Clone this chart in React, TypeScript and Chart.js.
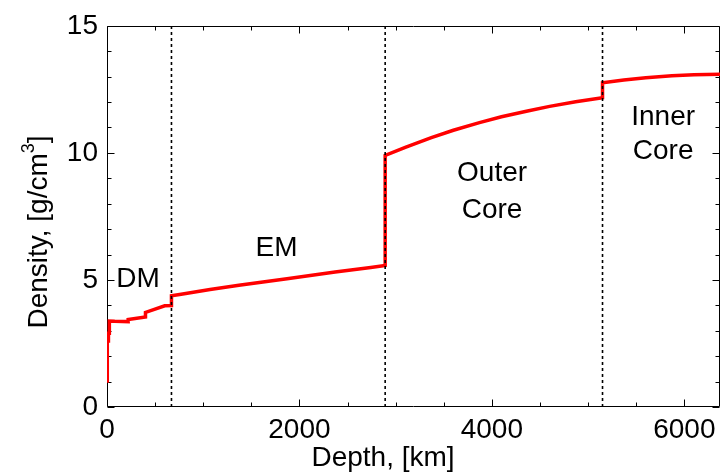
import React, { useEffect, useRef } from 'react';
import { Chart, registerables } from 'chart.js';

Chart.register(...registerables);

// PREM-like density profile
const depthKm = [
  0, 3, 3, 15, 15, 24.4, 24.4, 80, 220, 220, 400, 400, 600, 670, 670, 771,
  1071, 1371, 1871, 2371, 2741, 2891, 2891, 3100, 3371, 3600, 3871, 4100,
  4371, 4600, 4871, 5150, 5150, 5371, 5600, 5871, 6100, 6371,
];
const densityGcm3 = [
  1.02, 1.02, 2.6, 2.6, 2.9, 2.9, 3.38, 3.37, 3.36, 3.44, 3.54, 3.72, 3.98, 3.99, 4.38, 4.44,
  4.62, 4.79, 5.05, 5.31, 5.49, 5.57, 9.9, 10.22, 10.6, 10.89, 11.19, 11.42,
  11.65, 11.83, 12.01, 12.17, 12.76, 12.87, 12.96, 13.03, 13.07, 13.09,
];
const boundaryDepthsKm = [670, 2891, 5150];
const xTickValues = [0, 2000, 4000, 6000];
const yTickValues = [0, 5, 10, 15];
const xMinorStep = 500;
const yMinorStep = 1;
const xMax = 6371;
const yMax = 15;
const regionTexts = [['DM'], ['EM'], ['Outer', 'Core'], ['Inner', 'Core']];
const xTitle = 'Depth, [km]';
const yTitleMain = 'Density, [g/cm';
const yTitleSup = '3';
const yTitleEnd = ']';

// label anchors in data units (km, g/cm3), one per line
const regionAnchors = [
  [{ x: 322, y: 5.13 }],
  [{ x: 1762, y: 6.35 }],
  [{ x: 4002, y: 9.28 }, { x: 4002, y: 7.83 }],
  [{ x: 5780, y: 11.48 }, { x: 5780, y: 10.14 }],
];

const FAMILY = 'Arial, "Liberation Sans", sans-serif';
const FS = 28;

const overlayPlugin = {
  id: 'overlay',
  beforeDatasetsDraw(chart: any) {
    const { ctx, chartArea: a, scales } = chart;
    const xs = scales.x;
    const ys = scales.y;
    ctx.save();
    ctx.strokeStyle = '#000';
    ctx.lineWidth = 1;
    const L = Math.round(a.left) + 0.5;
    const R = Math.round(a.right) - 0.5;
    const T = Math.round(a.top) + 0.5;
    const B = Math.round(a.bottom) - 0.5;
    ctx.beginPath();
    ctx.rect(L, T, R - L, B - T);
    ctx.stroke();
    ctx.beginPath();
    for (let v = 0; v <= xMax; v += xMinorStep) {
      const px = Math.round(xs.getPixelForValue(v)) + 0.5;
      const len = xTickValues.includes(v) ? 7 : 4;
      ctx.moveTo(px, B);
      ctx.lineTo(px, B - len);
      ctx.moveTo(px, T);
      ctx.lineTo(px, T + len);
    }
    for (let v = 0; v <= yMax; v += yMinorStep) {
      const py = Math.round(ys.getPixelForValue(v)) + 0.5;
      const len = yTickValues.includes(v) ? 7 : 4;
      ctx.moveTo(L, py);
      ctx.lineTo(L + len, py);
      ctx.moveTo(R, py);
      ctx.lineTo(R - len, py);
    }
    ctx.stroke();
    ctx.restore();
  },
  afterDatasetsDraw(chart: any) {
    const { ctx, scales } = chart;
    const xs = scales.x;
    const ys = scales.y;
    ctx.save();
    ctx.fillStyle = '#000';
    ctx.font = `${FS}px ${FAMILY}`;
    ctx.textAlign = 'center';
    ctx.textBaseline = 'alphabetic';
    const cap = 0.716 * FS;
    regionTexts.forEach((lines, i) => {
      lines.forEach((t, j) => {
        const an = regionAnchors[i][j];
        ctx.fillText(t, xs.getPixelForValue(an.x), ys.getPixelForValue(an.y) + cap / 2);
      });
    });
    // x title
    ctx.fillText(xTitle, 383, 466);
    // y title
    ctx.translate(47, 232);
    ctx.rotate(-Math.PI / 2);
    ctx.textAlign = 'left';
    ctx.font = `${FS}px ${FAMILY}`;
    const wMain = ctx.measureText(yTitleMain).width;
    const wEnd = ctx.measureText(yTitleEnd).width;
    ctx.font = `${Math.round(FS * 0.65)}px ${FAMILY}`;
    const wSup = ctx.measureText(yTitleSup).width;
    const total = wMain + wSup + wEnd;
    const s = -total / 2;
    ctx.font = `${FS}px ${FAMILY}`;
    ctx.fillText(yTitleMain, s, 0);
    ctx.fillText(yTitleEnd, s + wMain + wSup, 0);
    ctx.font = `${Math.round(FS * 0.65)}px ${FAMILY}`;
    ctx.fillText(yTitleSup, s + wMain, -13);
    ctx.restore();
  },
};

export default function App() {
  const ref = useRef<HTMLCanvasElement | null>(null);
  useEffect(() => {
    if (!ref.current) return;
    const densityPoints = depthKm.map((d, i) => ({ x: d, y: densityGcm3[i] }));
    const boundarySets = boundaryDepthsKm.map((d) => ({
      data: [
        { x: d, y: 0 },
        { x: d, y: yMax },
      ],
      borderColor: '#000',
      borderWidth: 1.6,
      borderDash: [3, 3],
      pointRadius: 0,
      showLine: true,
      fill: false,
      order: 0,
      clip: 0,
    }));
    const chart = new Chart(ref.current, {
      type: 'scatter',
      data: {
        datasets: [
          {
            data: densityPoints,
            borderColor: '#ff0000',
            backgroundColor: '#ff0000',
            borderWidth: 3.5,
            pointRadius: 0,
            showLine: true,
            tension: 0,
            fill: false,
            order: 1,
            clip: 0,
          } as any,
          ...(boundarySets as any[]),
        ],
      },
      options: {
        animation: false,
        responsive: false,
        events: [],
        layout: { padding: { top: 24, right: 5, left: 0, bottom: 0 } },
        plugins: { legend: { display: false }, tooltip: { enabled: false } },
        scales: {
          x: {
            type: 'linear',
            min: 0,
            max: xMax,
            afterBuildTicks: (s: any) => {
              s.ticks = xTickValues.map((v) => ({ value: v }));
            },
            afterFit: (s: any) => {
              s.height = 68;
            },
            ticks: {
              color: '#000',
              font: { family: FAMILY, size: FS },
              padding: 6,
              maxRotation: 0,
              autoSkip: false,
              callback: (v: any) => String(v),
            },
            grid: { display: false, drawTicks: false },
            border: { display: false },
          },
          y: {
            type: 'linear',
            min: 0,
            max: yMax,
            afterBuildTicks: (s: any) => {
              s.ticks = yTickValues.map((v) => ({ value: v }));
            },
            afterFit: (s: any) => {
              s.width = 107;
            },
            ticks: {
              color: '#000',
              font: { family: FAMILY, size: FS },
              padding: 9,
              autoSkip: false,
              callback: (v: any) => String(v),
            },
            grid: { display: false, drawTicks: false },
            border: { display: false },
          },
        },
      },
      plugins: [overlayPlugin],
    } as any);
    return () => chart.destroy();
  }, []);
  return (
    <div style={{ position: 'absolute', left: 0, top: 0, width: 725, height: 475, background: '#fff' }}>
      <canvas ref={ref} width={725} height={475} style={{ display: 'block' }} />
    </div>
  );
}
